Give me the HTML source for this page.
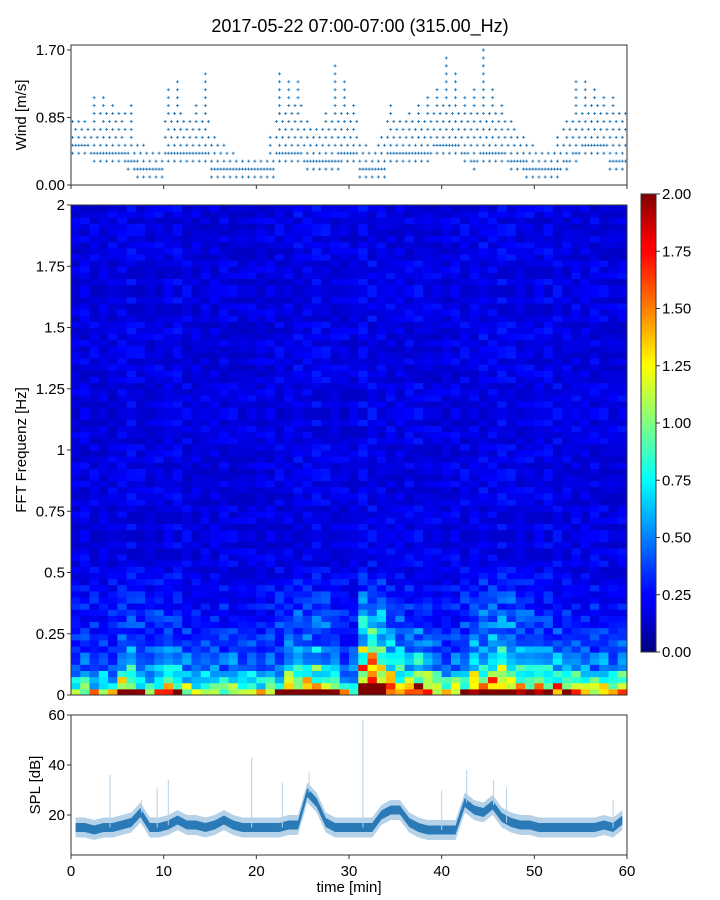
<!DOCTYPE html>
<html><head><meta charset="utf-8"><style>
html,body{margin:0;padding:0;background:#fff}
svg{display:block;font-family:"Liberation Sans","DejaVu Sans",sans-serif}
</style></head><body>
<svg id="fig" width="720" height="900" viewBox="0 0 720 900" xmlns="http://www.w3.org/2000/svg">
<text x="360" y="32" text-anchor="middle" font-size="18">2017-05-22 07:00-07:00 (315.00_Hz)</text>
<g id="wind"></g>
<g id="spec"></g>
<g id="cbar"></g>
<g id="spl"></g>
</svg>
<script>
const windLo=[4,4,3,3,3,3,2,1,1,1,3,3,3,3,3,1,1,1,1,1,1,1,3,3,3,2,2,2,2,3,3,1,1,1,3,3,3,3,3,4,4,4,3,2,3,3,3,2,2,1,1,1,1,2,3,4,4,4,2,2];
const windHi=[8,8,7,9,9,9,5,5,4,4,9,10,8,8,9,6,5,4,3,3,3,4,9,9,10,8,7,8,9,9,9,5,4,5,8,8,8,8,9,10,11,10,8,9,9,9,9,8,6,5,4,4,5,7,9,10,10,9,9,9];
const windPeak=[8,8,11,11,10,9,10,5,4,4,12,13,8,10,14,6,5,4,3,3,3,6,14,13,13,8,7,9,15,13,10,5,4,6,10,8,9,10,11,12,16,14,11,12,17,12,10,8,6,5,4,4,6,8,13,13,12,11,11,9];
const windTicks=[0,0.85,1.70];
const specLow=[0.8,0.9,0.8,1.0,0.9,1.9,1.8,1.0,0.9,1.2,1.5,1.6,1.0,0.9,0.8,0.9,0.8,0.9,0.8,0.9,0.9,0.8,1.1,1.6,1.8,1.9,1.9,1.7,1.6,1.0,0.8,2.0,2.0,2.0,1.5,1.3,1.2,1.8,1.7,1.2,1.1,1.2,1.4,1.8,2.0,2.0,2.0,1.9,1.8,1.5,1.7,1.7,1.6,1.7,1.5,1.2,1.1,1.2,1.1,1.4];
const specMid=[0.1,0.1,0.1,0.1,0.1,0.2,0.2,0.2,0.2,0.2,0.2,0.1,0.1,0.1,0.1,0.1,0.1,0.1,0.1,0.1,0.1,0.1,0.15,0.3,0.3,0.3,0.3,0.3,0.2,0.1,0.1,0.9,1.0,0.9,0.5,0.4,0.2,0.3,0.3,0.15,0.1,0.1,0.2,0.45,0.45,0.5,0.5,0.45,0.4,0.3,0.2,0.15,0.15,0.15,0.1,0.1,0.1,0.1,0.1,0.15];
const rowTex=[1.0,0.7,1.4,0.85,1.15,0.65,1.3,1.0,0.8,1.5,0.9,1.05,0.7,1.25,0.95,1.1,0.75,1.35,1.0,0.85,1.2,0.65,1.45,0.9,1.05,0.8,1.3,0.9,1.0,1.55,0.75,1.1,0.85,1.25,0.7,1.05,1.0,1.4,0.8,1.15];
const freqTicks=[0,0.25,0.5,0.75,1,1.25,1.5,1.75,2];
const freqTickLabels=["0","0.25","0.5","0.75","1","1.25","1.5","1.75","2"];
const cbarTicks=[0,0.25,0.5,0.75,1,1.25,1.5,1.75,2];
const splMean=[15,15,14,15,15,16,17,21,15,15,16,18,16,16,15,16,18,16,15,15,15,15,15,16,16,29,25,17,15,15,15,15,15,20,22,22,17,15,14,14,14,14,25,22,21,24,19,17,16,16,15,15,15,15,15,15,15,16,15,18];
const spikeT=[4.2,7.6,9.3,10.5,19.5,22.8,25.7,31.5,40,42.7,45.6,47,58.5];
const spikeV=[36,26,31,34,43,33,37,58,30,38,34,31,26];
const splTicks=[20,40,60];
const timeTicks=[0,10,20,30,40,50,60];

const NS="http://www.w3.org/2000/svg";
const X0=71,X1=627;
const xs=t=>X0+t*(X1-X0)/60;
const yW=v=>185-v*(135/1.70);
const yF=f=>695-f*245;
const yS=v=>855-(v-4)*2.5;
const yC=v=>652-v*(458/2);
function mk(tag,attrs,parent){const e=document.createElementNS(NS,tag);for(const k in attrs)e.setAttribute(k,attrs[k]);parent.appendChild(e);return e;}
function jet(v){let x=Math.max(0,Math.min(1,v/2));
 const r=Math.max(0,Math.min(1,1.5-Math.abs(4*x-3))),g=Math.max(0,Math.min(1,1.5-Math.abs(4*x-2))),b=Math.max(0,Math.min(1,1.5-Math.abs(4*x-1)));
 return `rgb(${Math.round(r*255)},${Math.round(g*255)},${Math.round(b*255)})`;}

// WIND
const gw=document.getElementById('wind');
let wp="";
for(let m=0;m<60;m++){
 for(let k=0;k<3;k++){const x=xs(m+(k+0.5)/3);
  for(let l=windLo[m];l<=windHi[m];l++){
   if((l+k+m)%2===1 && l!==windLo[m]+1) continue;
   const y=yW(l/10);wp+=`M${x-1.5} ${y}h3M${x} ${y-1.5}v3`;}
 }
 const xp=xs(m+0.5);
 for(let l=windHi[m]+1;l<=windPeak[m];l++){const y=yW(l/10);wp+=`M${xp-1.5} ${y}h3M${xp} ${y-1.5}v3`;}
}
const wpath=mk('path',{d:wp,stroke:'#2a7ab8','stroke-width':0.9,fill:'none'},gw);


const wf=mk('rect',{x:X0,y:45,width:X1-X0,height:140,fill:'none',stroke:'#333','stroke-width':1},gw);


windTicks.forEach((v,i)=>{const y=yW(v);mk('line',{x1:X0-4,x2:X0,y1:y,y2:y,stroke:'#333'},gw);
 const t=mk('text',{x:X0-6,y:y+5,'text-anchor':'end','font-size':15},gw);t.textContent=v.toFixed(2);
 
 });
timeTicks.forEach(v=>{mk('line',{x1:xs(v),x2:xs(v),y1:185,y2:189,stroke:'#333'},gw);});
const wl=mk('text',{x:26,y:115,'text-anchor':'middle','font-size':15,transform:'rotate(-90 26 115)'},gw);wl.textContent='Wind [m/s]';



// SPECTROGRAM
const gs=document.getElementById('spec');
const NR=80,df=0.025;
const lowProf=[0.95,0.5,0.32,0.22,0.14,0.1,0.08,0.06];
for(let t=0;t<60;t++){
 for(let r=0;r<NR;r++){
  const f=r*df;
  const bg=0.17+0.11*Math.max(0,1-f/0.6);
  const low=specLow[t]*(r<lowProf.length?lowProf[r]:0.02);
  const mid=specMid[t]*Math.max(0,1-f/0.5)*0.9;
  const idx=(r*r*3+r*7+t*t*5+t*11)%40;
  const v=(bg+low+mid)*rowTex[idx];
  const c=mk('rect',{x:xs(t),y:yF(f+df),width:(X1-X0)/60+0.5,height:245*df+0.5,fill:jet(v)},gs);
  
  
 }
}
const sf=mk('rect',{x:X0,y:205,width:X1-X0,height:490,fill:'none',stroke:'#333'},gs);


freqTicks.forEach((v,i)=>{const y=yF(v);mk('line',{x1:X0-4,x2:X0,y1:y,y2:y,stroke:'#333'},gs);
 const t=mk('text',{x:X0-6,y:y+5,'text-anchor':'end','font-size':15},gs);t.textContent=freqTickLabels[i];
 
 });
const fl=mk('text',{x:26,y:450,'text-anchor':'middle','font-size':15,transform:'rotate(-90 26 450)'},gs);fl.textContent='FFT Frequenz [Hz]';



// COLORBAR
const gc=document.getElementById('cbar');
const defs=mk('defs',{},gc);
const lg=mk('linearGradient',{id:'jetg',x1:0,y1:1,x2:0,y2:0},defs);
[[0,'#00007f'],[0.11,'#0000ff'],[0.125,'#0000ff'],[0.375,'#00ffff'],[0.625,'#ffff00'],[0.875,'#ff0000'],[0.89,'#ff0000'],[1,'#7f0000']].forEach(s=>mk('stop',{offset:s[0],'stop-color':s[1]},lg));
const cb=mk('rect',{x:641,y:194,width:15,height:458,fill:'url(#jetg)',stroke:'#333'},gc);


cbarTicks.forEach(v=>{const y=yC(v);mk('line',{x1:656,x2:660,y1:y,y2:y,stroke:'#333'},gc);
 const t=mk('text',{x:662,y:y+5,'font-size':15},gc);t.textContent=v.toFixed(2);
 
 });

// SPL
const gp=document.getElementById('spl');
let up="",lo="",ui="",li="";
for(let m=0;m<60;m++){const x=xs(m+0.5);
 up+=(m?'L':'M')+x+' '+yS(splMean[m]+4);
 ui+=(m?'L':'M')+x+' '+yS(splMean[m]+1.8);}
for(let m=59;m>=0;m--){const x=xs(m+0.5);
 lo+='L'+x+' '+yS(splMean[m]-4);
 li+='L'+x+' '+yS(splMean[m]-1.8);}
const ob=mk('path',{d:up+lo+'Z',fill:'#b5d2e8'},gp);


const ib=mk('path',{d:ui+li+'Z',fill:'#2a7ab8'},gp);


spikeT.forEach((t,i)=>{const s=mk('line',{x1:xs(t),x2:xs(t),y1:yS(splMean[Math.floor(t)]),y2:yS(spikeV[i]),stroke:'#b5d2e8','stroke-width':1},gp);
 
 });
const pf=mk('rect',{x:X0,y:715,width:X1-X0,height:140,fill:'none',stroke:'#333'},gp);


splTicks.forEach(v=>{const y=yS(v);mk('line',{x1:X0-4,x2:X0,y1:y,y2:y,stroke:'#333'},gp);
 const t=mk('text',{x:X0-6,y:y+5,'text-anchor':'end','font-size':15},gp);t.textContent=v;
 
 });
timeTicks.forEach(v=>{const x=xs(v);mk('line',{x1:x,x2:x,y1:855,y2:859,stroke:'#333'},gp);
 const t=mk('text',{x:x,y:876,'text-anchor':'middle','font-size':15},gp);t.textContent=v;
 
 });
const sl=mk('text',{x:40,y:785,'text-anchor':'middle','font-size':15,transform:'rotate(-90 40 785)'},gp);sl.textContent='SPL [dB]';


const tl=mk('text',{x:349,y:892,'text-anchor':'middle','font-size':15},gp);tl.textContent='time [min]';


</script>
</body></html>
